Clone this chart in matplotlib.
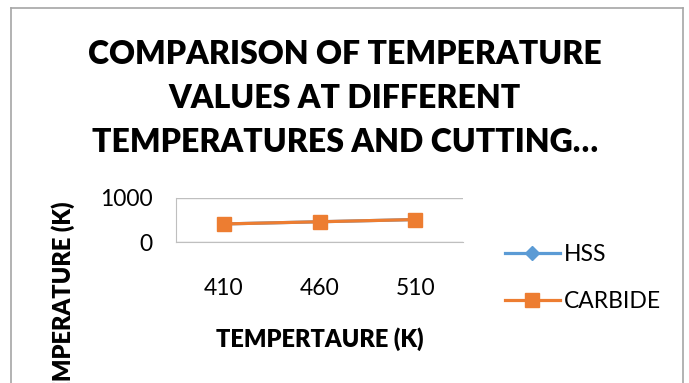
import matplotlib
matplotlib.use("Agg")
import matplotlib.pyplot as plt
from matplotlib.lines import Line2D

# data
temps = ["410", "460", "510"]
hss = [410, 460, 510]
carbide = [410, 460, 510]
y_ticks = [0, 1000]

plt.rcParams['font.family'] = ['Lato', 'DejaVu Sans']

W, H = 689, 383
fig = plt.figure(figsize=(W / 100, H / 100), dpi=100)

def fx(px):
    return px / W

def fy(py):
    return 1 - py / H

# chart border (bottom runs off the picture)
border = dict(color="#a6a6a6", lw=1.2, transform=fig.transFigure, clip_on=False)
fig.add_artist(Line2D([fx(11), fx(11)], [fy(8), fy(400)], **border))
fig.add_artist(Line2D([fx(11), fx(683)], [fy(8), fy(8)], **border))
fig.add_artist(Line2D([fx(683), fx(683)], [fy(8), fy(400)], **border))

ax = fig.add_axes([fx(176), fy(242), fx(463) - fx(176), fy(198) - fy(242)])
x = range(len(temps))
ax.plot(x, hss, color="#5B9BD5", lw=2.3, marker="D", ms=7, label="HSS")
ax.plot(x, carbide, color="#ED7D31", lw=2.3, marker="s", ms=10.5, label="CARBIDE")

ax.set_xlim(-0.5, len(temps) - 0.5)
ax.set_ylim(0, 1000)
ax.set_xticks(list(x))
ax.set_xticklabels(temps)
ax.set_yticks(y_ticks)
ax.tick_params(axis="both", length=0, labelsize=16.5, colors="black")
ax.tick_params(axis="x", pad=26)
ax.tick_params(axis="y", pad=17)
ax.grid(axis="y", color="#bfbfbf", lw=1)
for s in ["top", "right"]:
    ax.spines[s].set_visible(False)
ax.spines["left"].set_color("#bfbfbf")
ax.spines["bottom"].set_color("#bfbfbf")

title_lines = ["COMPARISON OF TEMPERATURE", "VALUES AT DIFFERENT",
               "TEMPERATURES AND CUTTING\u2026"]
for line, py in zip(title_lines, [55, 98, 142]):
    fig.text(fx(345), fy(py), line, ha="center", va="center",
             fontsize=23, fontweight="heavy")

fig.text(fx(320), fy(339), "TEMPERTAURE (K)", ha="center", va="center",
         fontsize=17, fontweight="heavy")
fig.text(fx(63), fy(305), "TEMPERATURE (K)", ha="center", va="center",
         rotation=90, fontsize=17, fontweight="heavy")

ax.legend(loc="center left", bbox_to_anchor=(fx(484), fy(278)), bbox_transform=fig.transFigure,
          frameon=False, fontsize=16.5, handlelength=2.4, handletextpad=0.2, labelspacing=1.15)

plt.savefig("out.png", dpi=100)
